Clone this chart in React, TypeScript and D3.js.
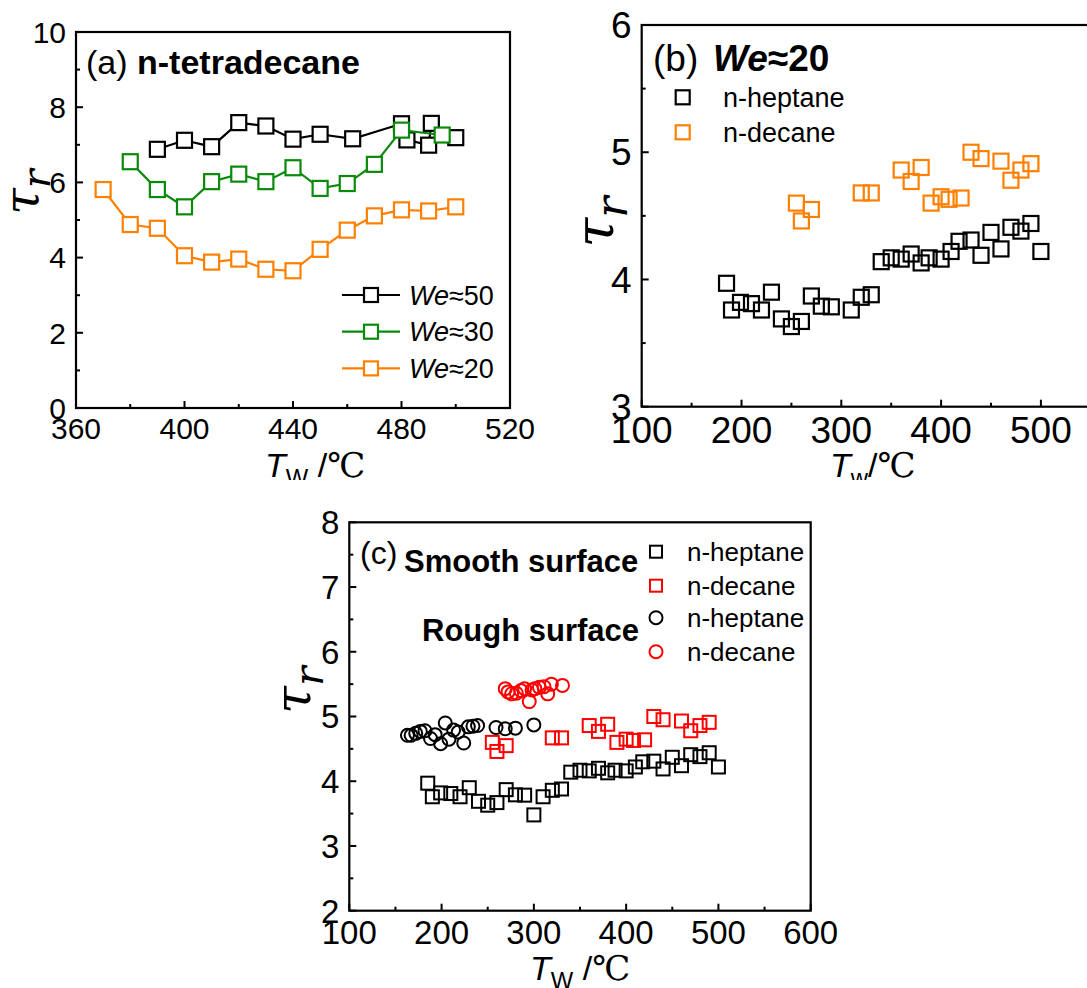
import React from 'react';
import * as d3 from 'd3';

type P = [number, number];

// ---------- Panel (a): n-tetradecane ----------
const tetradecaneWe50: P[] = [[390,6.88],[400,7.12],[410,6.95],[420,7.59],[430,7.50],[440,7.15],[450,7.28],[462,7.16],[480,7.56],[482,7.13],[490,6.99],[491,7.57],[500,7.19]];
const tetradecaneWe30: P[] = [[380,6.55],[390,5.81],[400,5.35],[410,6.02],[420,6.22],[430,6.02],[440,6.39],[450,5.84],[460,5.97],[470,6.48],[480,7.39],[495,7.26]];
const tetradecaneWe20: P[] = [[370,5.81],[380,4.88],[390,4.78],[400,4.05],[410,3.88],[420,3.96],[430,3.69],[440,3.65],[450,4.22],[460,4.73],[470,5.11],[480,5.27],[490,5.24],[500,5.35]];
const aLegendWe = ['50', '30', '20'];
const aXTicks = [360, 400, 440, 480, 520];
const aXMinor = [380, 420, 460, 500];
const aYTicks = [0, 2, 4, 6, 8, 10];
const aYMinor = [1, 3, 5, 7, 9];

// ---------- Panel (b): We≈20 ----------
const heptaneB: P[] = [[185,3.97],[190,3.76],[199,3.82],[210,3.81],[220,3.76],[230,3.90],[240,3.69],[250,3.63],[260,3.67],[270,3.87],[280,3.79],[290,3.785],[310,3.76],[320,3.86],[330,3.88],[340,4.14],[350,4.17],[360,4.16],[370,4.20],[380,4.13],[388,4.17],[400,4.16],[410,4.22],[418,4.30],[430,4.31],[440,4.19],[450,4.37],[460,4.24],[470,4.41],[480,4.38],[490,4.44],[500,4.22]];
const decaneB: P[] = [[255,4.60],[260,4.46],[270,4.55],[320,4.68],[330,4.68],[360,4.86],[370,4.77],[380,4.88],[390,4.60],[400,4.65],[408,4.63],[420,4.64],[430,5.00],[440,4.95],[460,4.93],[470,4.78],[480,4.86],[490,4.91]];
const bLegend = ['n-heptane', 'n-decane'];
const bXTicks = [100, 200, 300, 400, 500, 600];
const bXMinor = [150, 250, 350, 450, 550];
const bYTicks = [3, 4, 5, 6];
const bYMinor = [3.5, 4.5, 5.5];

// ---------- Panel (c): smooth vs rough ----------
const heptaneSmoothC: P[] = [[185,3.97],[190,3.76],[199,3.82],[210,3.81],[220,3.76],[230,3.90],[240,3.69],[250,3.63],[260,3.67],[270,3.87],[280,3.79],[290,3.785],[300,3.48],[310,3.76],[320,3.86],[330,3.88],[340,4.14],[350,4.17],[360,4.16],[370,4.20],[380,4.13],[388,4.17],[400,4.16],[410,4.22],[418,4.30],[430,4.31],[440,4.19],[450,4.37],[460,4.24],[470,4.41],[480,4.38],[490,4.44],[500,4.22]];
const decaneSmoothC: P[] = [[255,4.60],[260,4.46],[270,4.55],[320,4.67],[330,4.67],[360,4.86],[370,4.77],[380,4.88],[390,4.60],[400,4.65],[408,4.63],[420,4.64],[430,5.00],[440,4.95],[460,4.93],[470,4.78],[480,4.86],[490,4.91]];
const heptaneRoughC: P[] = [[163,4.71],[167,4.71],[172,4.74],[177,4.77],[182,4.78],[188,4.66],[193,4.72],[199,4.58],[204,4.90],[208,4.65],[213,4.79],[218,4.76],[224,4.59],[229,4.84],[234,4.85],[239,4.86],[259,4.83],[269,4.81],[280,4.82],[300,4.87]];
const decaneRoughC: P[] = [[269,5.43],[272,5.38],[276,5.35],[281,5.36],[286,5.40],[290,5.43],[295,5.23],[298,5.41],[301,5.43],[306,5.45],[311,5.46],[315,5.35],[319,5.50],[331,5.48]];
const cLegend = ['n-heptane', 'n-decane', 'n-heptane', 'n-decane'];
const cXTicks = [100, 200, 300, 400, 500, 600];
const cXMinor = [150, 250, 350, 450, 550];
const cYTicks = [2, 3, 4, 5, 6, 7, 8];
const cYMinor = [2.5, 3.5, 4.5, 5.5, 6.5, 7.5];

const SANS = '"Liberation Sans", Arial, Helvetica, sans-serif';
const SERIF = '"DejaVu Serif", "Liberation Serif", serif';
const BLACK = '#000000';
const GREEN = '#0a8a0a';
const ORANGE = '#ff8000';
const RED = '#ff0000';

type Lin = d3.ScaleLinear<number, number>;

function Axes({ x, y, xTicks, xMinor, yTicks, yMinor, fs }: { x: Lin; y: Lin; xTicks: number[]; xMinor: number[]; yTicks: number[]; yMinor: number[]; fs: number }) {
  const [x0, x1] = x.range();
  const [y0, y1] = y.range();
  const major = 7;
  const minor = 4;
  return (
    <g>
      <rect x={x0} y={y1} width={x1 - x0} height={y0 - y1} fill="none" stroke={BLACK} strokeWidth={2.2} />
      {xTicks.map((t) => (
        <g key={'xt' + t}>
          <line x1={x(t)} x2={x(t)} y1={y0} y2={y0 - major} stroke={BLACK} strokeWidth={2} />
          <text x={x(t)} y={y0 + 10 + 0.716 * fs} fontSize={fs} fontFamily={SANS} textAnchor="middle">{t}</text>
        </g>
      ))}
      {xMinor.map((t) => (
        <line key={'xm' + t} x1={x(t)} x2={x(t)} y1={y0} y2={y0 - minor} stroke={BLACK} strokeWidth={2} />
      ))}
      {yTicks.map((t) => (
        <g key={'yt' + t}>
          <line x1={x0} x2={x0 + major} y1={y(t)} y2={y(t)} stroke={BLACK} strokeWidth={2} />
          <text x={x0 - 10} y={y(t) + 0.358 * fs} fontSize={fs} fontFamily={SANS} textAnchor="end">{t}</text>
        </g>
      ))}
      {yMinor.map((t) => (
        <line key={'ym' + t} x1={x0} x2={x0 + minor} y1={y(t)} y2={y(t)} stroke={BLACK} strokeWidth={2} />
      ))}
    </g>
  );
}

function Squares({ data, x, y, color, size, fill = 'none', sw = 2 }: { data: P[]; x: Lin; y: Lin; color: string; size: number; fill?: string; sw?: number }) {
  return (
    <g>
      {data.map((d, i) => (
        <rect key={i} x={x(d[0]) - size / 2} y={y(d[1]) - size / 2} width={size} height={size} fill={fill} stroke={color} strokeWidth={sw} />
      ))}
    </g>
  );
}

function Circles({ data, x, y, color, r }: { data: P[]; x: Lin; y: Lin; color: string; r: number }) {
  return (
    <g>
      {data.map((d, i) => (
        <circle key={i} cx={x(d[0])} cy={y(d[1])} r={r} fill="none" stroke={color} strokeWidth={2} />
      ))}
    </g>
  );
}

function TauLabel({ cx, cy, fs }: { cx: number; cy: number; fs: number }) {
  return (
    <text transform={`translate(${cx},${cy}) rotate(-90)`} textAnchor="middle" fontFamily={SERIF} fontStyle="italic">
      <tspan fontSize={fs}>τ</tspan>
      <tspan fontSize={fs * 0.82} dy={fs * 0.26}>r</tspan>
    </text>
  );
}

function XTitle({ x, y, fs, sub, space }: { x: number; y: number; fs: number; sub: string; space: boolean }) {
  return (
    <text x={x} y={y} fontSize={fs} fontFamily={SANS}>
      <tspan fontStyle="italic">T</tspan>
      <tspan fontSize={fs * 0.7} dy={fs * 0.25}>{sub}</tspan>
      <tspan dy={-fs * 0.25}>{space ? ' /' : '/'}</tspan>
      <tspan fontFamily={SERIF} fontWeight="normal">℃</tspan>
    </text>
  );
}

export default function App() {
  // panel a scales
  const ax = d3.scaleLinear().domain([360, 520]).range([76, 510]);
  const ay = d3.scaleLinear().domain([0, 10]).range([408, 32]);
  // panel b scales
  const bx = d3.scaleLinear().domain([100, 600]).range([641.7, 1140.7]);
  const by = d3.scaleLinear().domain([3, 6]).range([406.7, 25]);
  // panel c scales
  const cx = d3.scaleLinear().domain([100, 600]).range([349.3, 810.7]);
  const cy = d3.scaleLinear().domain([2, 8]).range([910.7, 522.3]);

  const lineA = d3.line<P>().x((d) => ax(d[0])).y((d) => ay(d[1]));
  const aSeries = [
    { data: tetradecaneWe50, color: BLACK },
    { data: tetradecaneWe30, color: GREEN },
    { data: tetradecaneWe20, color: ORANGE },
  ];

  const bColors = [BLACK, ORANGE];
  const cColors = [BLACK, RED, BLACK, RED];

  return (
    <svg width={1087} height={988} style={{ position: 'absolute', left: 0, top: 0, background: '#fff' }}>
      <defs>
        <clipPath id="topClip">
          <rect x={0} y={0} width={1087} height={480} />
        </clipPath>
      </defs>
      <rect x={0} y={0} width={1087} height={988} fill="#fff" />

      {/* Panel (a) */}
      <g clipPath="url(#topClip)">
        <Axes x={ax} y={ay} xTicks={aXTicks} xMinor={aXMinor} yTicks={aYTicks} yMinor={aYMinor} fs={30} />
        {aSeries.map((s, i) => (
          <g key={i}>
            <path d={lineA(s.data) || ''} fill="none" stroke={s.color} strokeWidth={2.2} />
            <Squares data={s.data} x={ax} y={ay} color={s.color} size={15} fill="#fff" sw={2.2} />
          </g>
        ))}
        <text x={86} y={74} fontSize={34} fontFamily={SANS}>(a)</text>
        <text x={137} y={74} fontSize={34} fontFamily={SANS} fontWeight="bold">n-tetradecane</text>
        {aLegendWe.map((w, i) => {
          const yy = 295 + i * 36.7;
          const col = aSeries[i].color;
          return (
            <g key={w}>
              <line x1={342} x2={400} y1={yy} y2={yy} stroke={col} strokeWidth={2.2} />
              <rect x={371 - 7} y={yy - 7} width={14} height={14} fill="#fff" stroke={col} strokeWidth={2.2} />
              <text x={409} y={yy + 9.5} fontSize={27} fontFamily={SANS}>
                <tspan fontStyle="italic">We</tspan>≈{w}
              </text>
            </g>
          );
        })}
        <TauLabel cx={38} cy={192} fs={48} />
        <XTitle x={265} y={477} fs={34} sub="W" space={true} />
      </g>

      {/* Panel (b) */}
      <g clipPath="url(#topClip)">
        <Axes x={bx} y={by} xTicks={bXTicks} xMinor={bXMinor} yTicks={bYTicks} yMinor={bYMinor} fs={37} />
        <Squares data={heptaneB} x={bx} y={by} color={BLACK} size={15} sw={2.2} />
        <Squares data={decaneB} x={bx} y={by} color={ORANGE} size={15} sw={2.2} />
        <text x={653} y={71} fontSize={37} fontFamily={SANS}>(b)</text>
        <text x={713} y={71} fontSize={37} fontFamily={SANS} fontWeight="bold">
          <tspan fontStyle="italic">We</tspan>≈20
        </text>
        {bLegend.map((name, i) => {
          const yy = 97.3 + i * 35;
          return (
            <g key={i}>
              <rect x={682.7 - 7} y={yy - 7} width={14} height={14} fill="none" stroke={bColors[i]} strokeWidth={2.2} />
              <text x={723} y={yy + 9.5} fontSize={27} fontFamily={SANS}>{name}</text>
            </g>
          );
        })}
        <TauLabel cx={613} cy={222} fs={54} />
        <XTitle x={830} y={477} fs={34} sub="w" space={false} />
      </g>

      {/* Panel (c) */}
      <g>
        <Axes x={cx} y={cy} xTicks={cXTicks} xMinor={cXMinor} yTicks={cYTicks} yMinor={cYMinor} fs={33} />
        <Squares data={heptaneSmoothC} x={cx} y={cy} color={BLACK} size={13} />
        <Squares data={decaneSmoothC} x={cx} y={cy} color={RED} size={13} />
        <Circles data={heptaneRoughC} x={cx} y={cy} color={BLACK} r={6.5} />
        <Circles data={decaneRoughC} x={cx} y={cy} color={RED} r={6.5} />
        <text x={360} y={564} fontSize={32} fontFamily={SANS}>(c)</text>
        <text x={404} y={572} fontSize={31} fontFamily={SANS} fontWeight="bold">Smooth surface</text>
        <text x={422} y={641} fontSize={31} fontFamily={SANS} fontWeight="bold">Rough surface</text>
        {cLegend.map((name, i) => {
          const yy = [551.7, 585.7, 617.7, 651.7][i];
          return (
            <g key={i}>
              {i < 2 ? (
                <rect x={656 - 6} y={yy - 6} width={12} height={12} fill="none" stroke={cColors[i]} strokeWidth={2} />
              ) : (
                <circle cx={656} cy={yy} r={6.5} fill="none" stroke={cColors[i]} strokeWidth={2} />
              )}
              <text x={687} y={yy + 9} fontSize={26} fontFamily={SANS}>{name}</text>
            </g>
          );
        })}
        <TauLabel cx={310} cy={690} fs={50} />
        <XTitle x={530} y={980} fs={34} sub="W" space={true} />
      </g>
    </svg>
  );
}
